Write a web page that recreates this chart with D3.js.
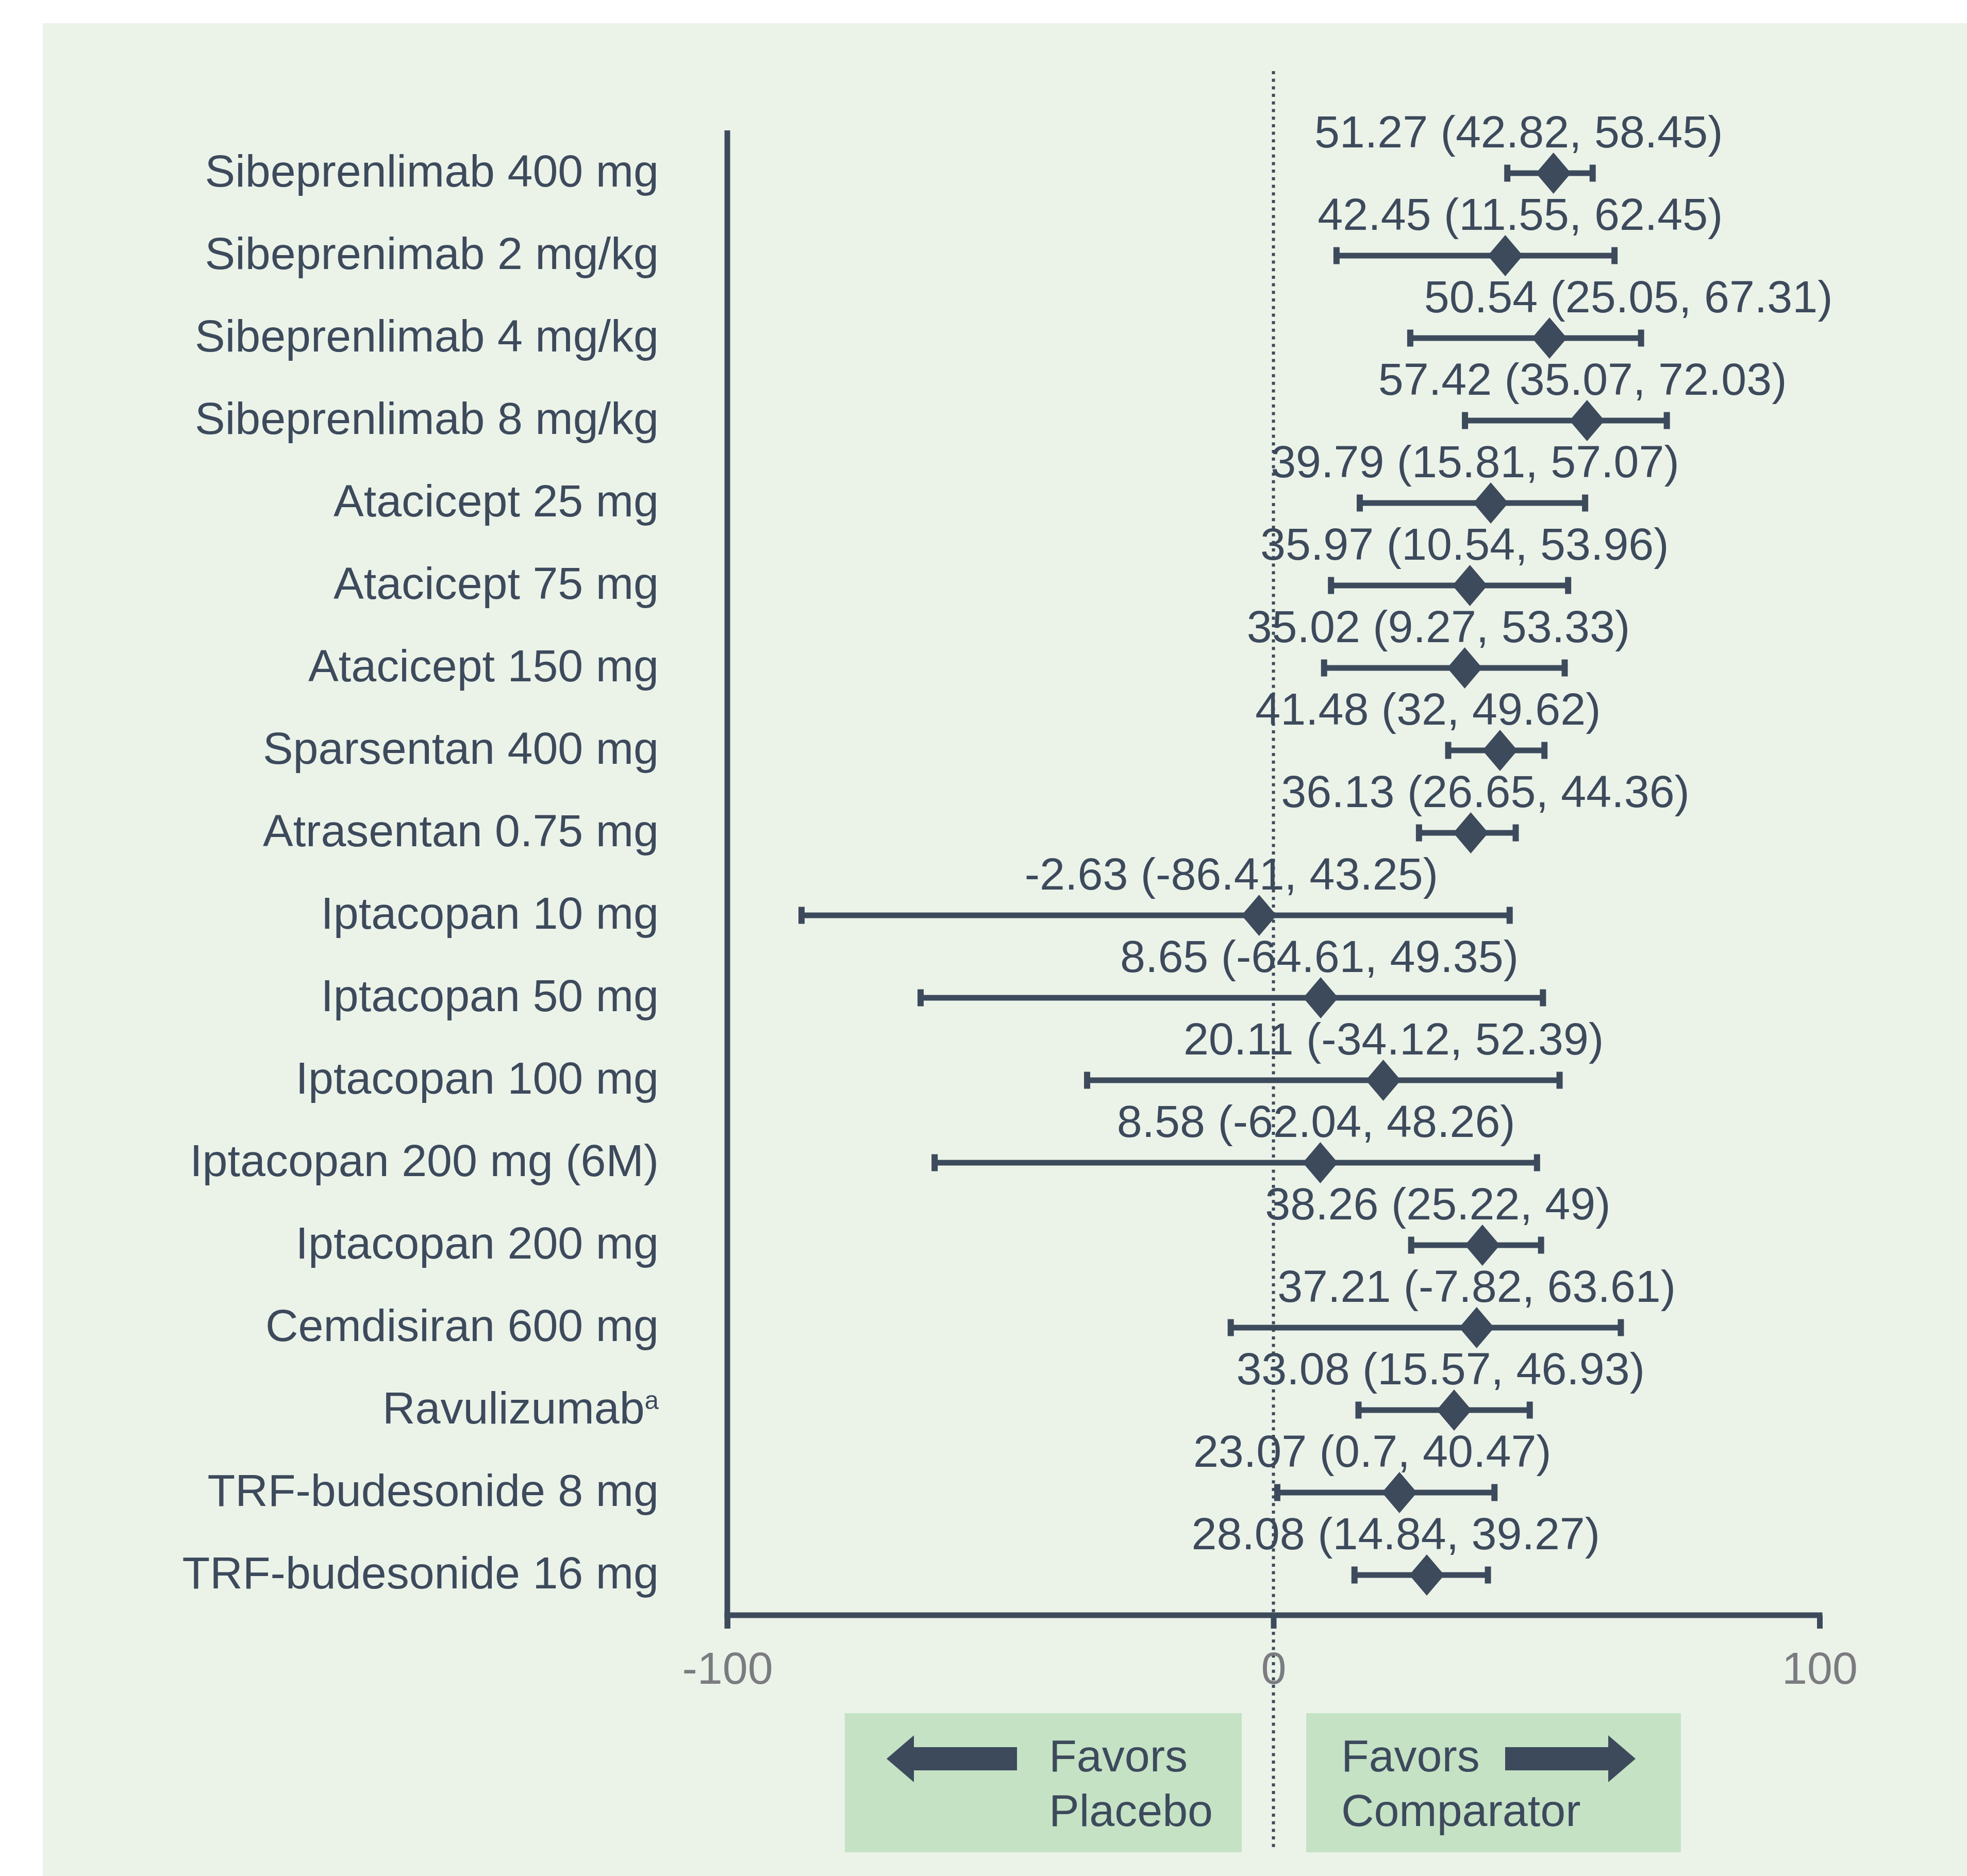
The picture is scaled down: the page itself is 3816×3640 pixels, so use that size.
<!DOCTYPE html>
<html>
<head>
<meta charset="utf-8">
<script src="https://cdn.jsdelivr.net/npm/d3@7"></script>
<style>
  html, body { margin: 0; padding: 0; background: #ffffff; overflow: hidden; }
  svg { display: block; font-family: "Liberation Sans", Arial, sans-serif; }
</style>
</head>
<body>
<div id="chart"></div>
<script>
// Chart data
const labels = [
  'Sibeprenlimab 400 mg',
  'Sibeprenimab 2 mg/kg',
  'Sibeprenlimab 4 mg/kg',
  'Sibeprenlimab 8 mg/kg',
  'Atacicept 25 mg',
  'Atacicept 75 mg',
  'Atacicept 150 mg',
  'Sparsentan 400 mg',
  'Atrasentan 0.75 mg',
  'Iptacopan 10 mg',
  'Iptacopan 50 mg',
  'Iptacopan 100 mg',
  'Iptacopan 200 mg (6M)',
  'Iptacopan 200 mg',
  'Cemdisiran 600 mg',
  'Ravulizumab',
  'TRF-budesonide 8 mg',
  'TRF-budesonide 16 mg'
];
const footnotes = { 'Ravulizumab': 'a' };

const estimates = [51.27, 42.45, 50.54, 57.42, 39.79, 35.97, 35.02, 41.48, 36.13,
                   -2.63, 8.65, 20.11, 8.58, 38.26, 37.21, 33.08, 23.07, 28.08];
const lower = [42.82, 11.55, 25.05, 35.07, 15.81, 10.54, 9.27, 32, 26.65,
               -86.41, -64.61, -34.12, -62.04, 25.22, -7.82, 15.57, 0.7, 14.84];
const upper = [58.45, 62.45, 67.31, 72.03, 57.07, 53.96, 53.33, 49.62, 44.36,
               43.25, 49.35, 52.39, 48.26, 49, 63.61, 46.93, 40.47, 39.27];
// where each value label sits along the x axis
const labelAt = [44.9, 45.2, 65.0, 56.6, 36.9, 35.0, 30.2, 28.3, 38.8,
                 -7.7, 8.4, 22.0, 7.8, 30.1, 37.2, 30.6, 18.1, 22.4];

const xTicks = [-100, 0, 100];
const favorsLeft = ['Favors', 'Placebo'];
const favorsRight = ['Favors', 'Comparator'];

// Layout
const width = 3816;
const height = 3640;
const dark = '#3d4a5c';
const fontSize = 88;

const rows = labels.map((name, i) => ({
  name,
  est: estimates[i],
  lo: lower[i],
  hi: upper[i],
  labelX: labelAt[i],
  text: `${estimates[i]} (${lower[i]}, ${upper[i]})`
}));

const svg = d3.select('#chart')
  .append('svg')
  .attr('width', width)
  .attr('height', height)
  .attr('viewBox', `0 0 ${width} ${height}`);

// Panel background
svg.append('rect')
  .attr('x', 83)
  .attr('y', 45)
  .attr('width', width - 83)
  .attr('height', height - 45)
  .attr('fill', '#ebf3e9');

// Scales
const x = d3.scaleLinear()
  .domain([-100, 100])
  .range([1411, 3530]);

const y = d3.scaleBand()
  .domain(labels)
  .range([256, 3136])
  .padding(0);

const yc = d => y(d) + y.bandwidth() / 2;
const axisY = 3134;

// Favors boxes
const boxes = [
  { x0: x(-78.5), x1: x(-5.8), dir: -1, lines: favorsLeft, textX: x(-41.1) },
  { x0: x(6.0), x1: x(74.6), dir: 1, lines: favorsRight, textX: x(12.4) }
];

const boxG = svg.append('g').attr('class', 'favors');
boxes.forEach(b => {
  boxG.append('rect')
    .attr('x', b.x0)
    .attr('y', 3324)
    .attr('width', b.x1 - b.x0)
    .attr('height', 270)
    .attr('fill', '#c5e2c5');

  b.lines.forEach((t, i) => {
    boxG.append('text')
      .attr('x', b.textX)
      .attr('y', 3437 + i * 106)
      .attr('font-size', fontSize)
      .attr('fill', dark)
      .text(t);
  });

  // block arrow: shaft 200 long, head 53 long
  const base = b.dir < 0 ? 1973 : 2920;
  const s = b.dir;
  const cy = 3412.5;
  const pts = [
    [base, cy - 22.5],
    [base + s * 200, cy - 22.5],
    [base + s * 200, cy - 45.5],
    [base + s * 253, cy],
    [base + s * 200, cy + 45.5],
    [base + s * 200, cy + 22.5],
    [base, cy + 22.5]
  ];
  boxG.append('path')
    .attr('d', d3.line()(pts) + 'Z')
    .attr('fill', dark);
});

// Reference line at zero
svg.append('line')
  .attr('x1', x(0))
  .attr('x2', x(0))
  .attr('y1', 138)
  .attr('y2', 3590)
  .attr('stroke', dark)
  .attr('stroke-width', 6)
  .attr('stroke-dasharray', '6,8.7');

// X axis
const xAxis = d3.axisBottom(x)
  .tickValues(xTicks)
  .tickSize(26)
  .tickSizeOuter(0)
  .tickFormat(d => String(d));

const xg = svg.append('g')
  .attr('class', 'x-axis')
  .attr('transform', `translate(0,${axisY})`)
  .call(xAxis);

xg.select('.domain')
  .attr('stroke', dark)
  .attr('stroke-width', 11)
  .attr('stroke-linecap', 'square')
  .attr('d', `M${x(-100)},0H${x(100)}`);

xg.selectAll('.tick line')
  .attr('stroke', dark)
  .attr('stroke-width', 11);

xg.selectAll('.tick text')
  .attr('y', 133)
  .attr('dy', 0)
  .attr('fill', '#7b7c80')
  .attr('font-size', fontSize)
  .attr('font-family', '"Liberation Sans", Arial, sans-serif');

// Y axis: labels only, line drawn separately
const yAxis = d3.axisLeft(y)
  .tickSize(0)
  .tickPadding(133);

const yg = svg.append('g')
  .attr('class', 'y-axis')
  .attr('transform', `translate(${x(-100)},0)`)
  .call(yAxis);

yg.select('.domain').remove();

yg.selectAll('.tick text')
  .attr('fill', dark)
  .attr('font-size', fontSize)
  .attr('font-family', '"Liberation Sans", Arial, sans-serif')
  .attr('dy', '0.3em')
  .each(function (d) {
    if (footnotes[d]) {
      d3.select(this).append('tspan')
        .attr('font-size', fontSize * 0.56)
        .attr('dy', -28)
        .text(footnotes[d]);
    }
  });

svg.append('line')
  .attr('x1', x(-100))
  .attr('x2', x(-100))
  .attr('y1', 253)
  .attr('y2', axisY + 26)
  .attr('stroke', dark)
  .attr('stroke-width', 11);

// Estimates with confidence intervals
const marks = svg.append('g').attr('class', 'estimates');

const row = marks.selectAll('.row')
  .data(rows)
  .join('g')
    .attr('class', 'row')
    .attr('transform', d => `translate(0,${yc(d.name)})`);

row.append('line')
  .attr('x1', d => x(d.lo))
  .attr('x2', d => x(d.hi))
  .attr('stroke', dark)
  .attr('stroke-width', 11);

row.selectAll('.cap')
  .data(d => [d.lo, d.hi])
  .join('line')
    .attr('class', 'cap')
    .attr('x1', v => x(v))
    .attr('x2', v => x(v))
    .attr('y1', -16.5)
    .attr('y2', 16.5)
    .attr('stroke', dark)
    .attr('stroke-width', 12);

row.append('path')
  .attr('d', 'M0,-40L34,0L0,40L-34,0Z')
  .attr('transform', d => `translate(${x(d.est)},0)`)
  .attr('fill', dark);

row.append('text')
  .attr('x', d => x(d.labelX))
  .attr('y', -50)
  .attr('text-anchor', 'middle')
  .attr('font-size', fontSize)
  .attr('fill', dark)
  .text(d => d.text);
</script>
</body>
</html>
